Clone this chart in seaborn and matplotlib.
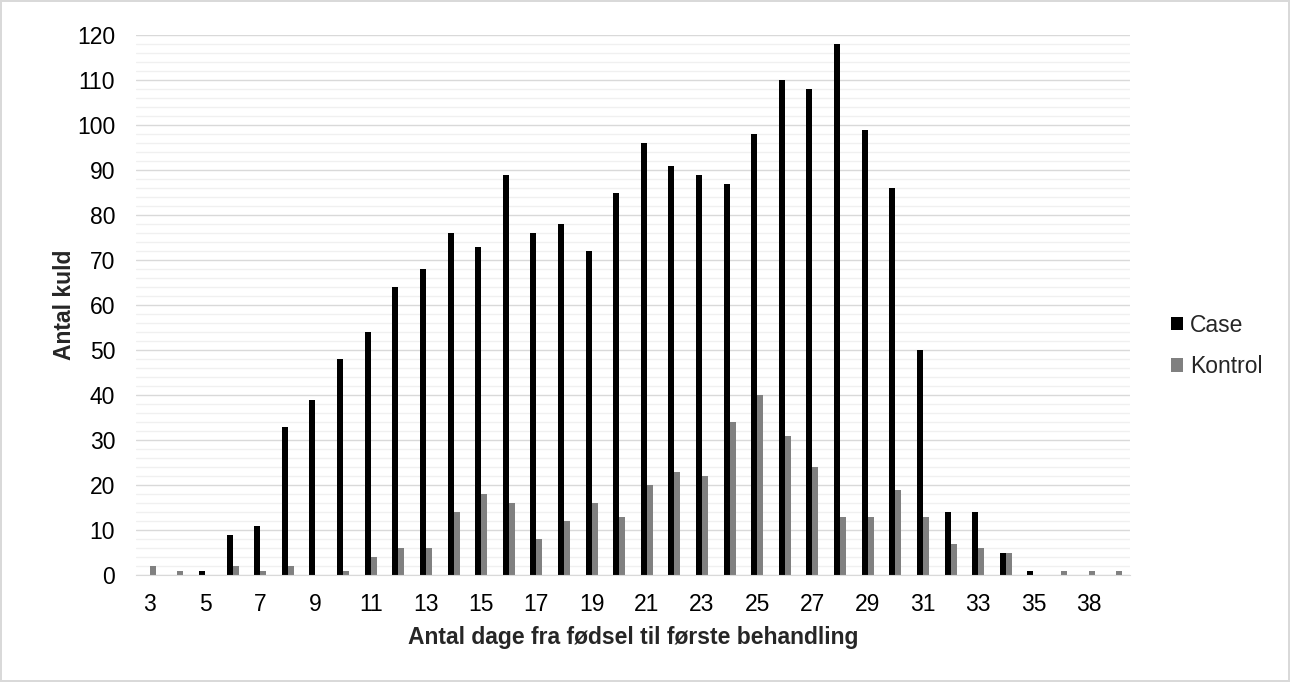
import numpy
import pandas
from matplotlib import pyplot as plt
from matplotlib.ticker import MultipleLocator
import seaborn

# days from birth to first treatment
days = ['3', '4', '5', '6', '7', '8', '9', '10', '11', '12', '13', '14', '15', '16',
        '17', '18', '19', '20', '21', '22', '23', '24', '25', '26', '27', '28', '29',
        '30', '31', '32', '33', '34', '35', '36', '38', '39']
case = [0, 0, 1, 9, 11, 33, 39, 48, 54, 64, 68, 76, 73, 89, 76, 78, 72, 85, 96, 91,
        89, 87, 98, 110, 108, 118, 99, 86, 50, 14, 14, 5, 1, 0, 0, 0]
kontrol = [2, 1, 0, 2, 1, 2, 0, 1, 4, 6, 6, 14, 18, 16, 8, 12, 16, 13, 20, 23, 22,
           34, 40, 31, 24, 13, 13, 19, 13, 7, 6, 5, 0, 1, 1, 1]
groups = ['Case', 'Kontrol']
colors = ['#000000', '#808080']

df = pandas.DataFrame({
    'dag': days * 2,
    'antal': case + kontrol,
    'gruppe': ['Case'] * len(days) + ['Kontrol'] * len(days),
})

seaborn.set_style('white')
plt.rcParams['font.family'] = ['Liberation Sans', 'DejaVu Sans']
fs = 16.5

fig = plt.figure(figsize=(12.9, 6.82), dpi=100)
fig.patch.set_edgecolor('#d9d9d9')
fig.patch.set_linewidth(1.5)
ax = fig.add_axes([136 / 1290, 1 - 575 / 682, 994 / 1290, 540 / 682])

seaborn.barplot(data=df, x='dag', y='antal', hue='gruppe', order=days,
                hue_order=groups, palette=colors, width=0.435, saturation=1,
                linewidth=0, ax=ax, legend=True)

ax.set_ylim(0, 120)
ax.set_xlim(-0.5, len(days) - 0.5)
ax.yaxis.set_major_locator(MultipleLocator(10))
ax.yaxis.set_minor_locator(MultipleLocator(2))
ax.grid(axis='y', which='major', color='#d9d9d9', linewidth=1.0)
ax.grid(axis='y', which='minor', color='#f0f0f0', linewidth=1.0)
ax.set_axisbelow(True)

ax.set_xticks(range(0, len(days), 2))
ax.set_xticklabels(days[::2])
ax.tick_params(axis='both', which='both', length=0, labelsize=fs, colors='#000000')
ax.tick_params(axis='y', pad=15)
ax.tick_params(axis='x', pad=13)

for side in ['top', 'right', 'left']:
    ax.spines[side].set_visible(False)
ax.spines['bottom'].set_color('#d9d9d9')

ax.set_xlabel('Antal dage fra fødsel til første behandling', fontsize=fs,
              fontweight='bold', labelpad=7)
ax.set_ylabel('Antal kuld', fontsize=fs, fontweight='bold', labelpad=1)

handles, labels = ax.get_legend_handles_labels()
ax.legend(handles, labels, loc='center left', bbox_to_anchor=(1171 / 1290, 1 - 346 / 682),
          bbox_transform=fig.transFigure, frameon=False, fontsize=fs,
          handlelength=0.52, handleheight=0.52, handletextpad=0.3,
          labelspacing=0.8, borderpad=0, borderaxespad=0)

plt.savefig('out.png', dpi=100)
